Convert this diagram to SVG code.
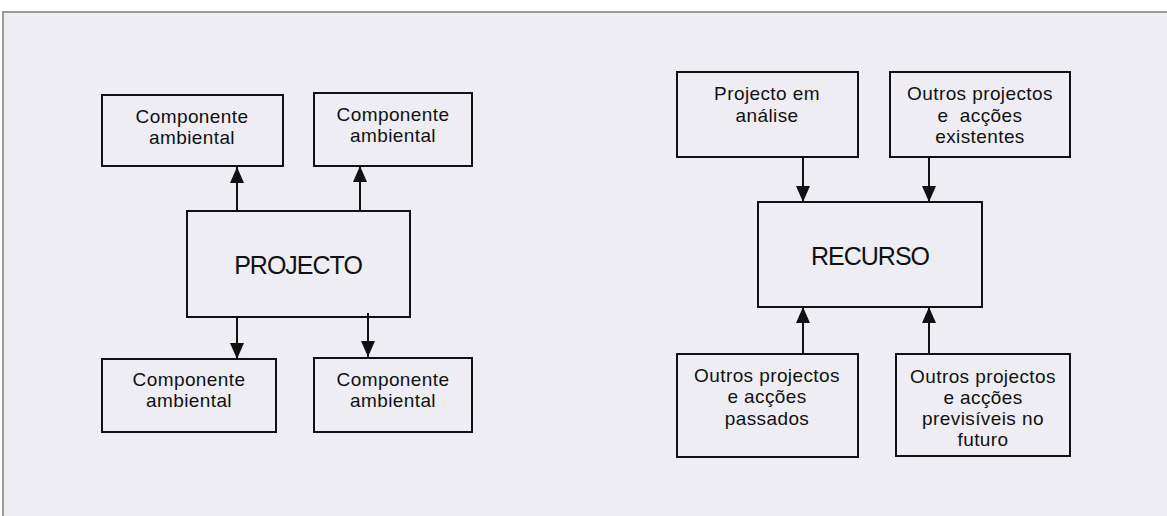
<svg xmlns="http://www.w3.org/2000/svg" width="1167" height="516" viewBox="0 0 1167 516">
<style>
.box{fill:none;stroke:#111;stroke-width:2}
.t{font-family:"Liberation Sans",Arial,sans-serif;font-size:19px;letter-spacing:0.4px;fill:#111;text-anchor:middle}
.big{font-family:"Liberation Sans",Arial,sans-serif;font-size:25px;fill:#111;text-anchor:middle;letter-spacing:-1px}
.c{stroke:#111;stroke-width:2;fill:none}
</style>
<defs>
<marker id="ah" viewBox="0 0 16 14" refX="16" refY="7" markerWidth="16" markerHeight="14" markerUnits="userSpaceOnUse" orient="auto">
<path d="M0,0 L16,7 L0,14 Z" fill="#111"/>
</marker>
</defs>
<rect x="0" y="0" width="1167" height="516" fill="#ffffff"/>
<rect x="3" y="12" width="1170" height="510" fill="#ededf3" stroke="#9a9a9a" stroke-width="2"/>

<g id="connectors">
<line class="c" x1="237" y1="211" x2="237" y2="167" marker-end="url(#ah)"/>
<line class="c" x1="360" y1="211" x2="360" y2="166" marker-end="url(#ah)"/>
<line class="c" x1="237" y1="317" x2="237" y2="359" marker-end="url(#ah)"/>
<line class="c" x1="368" y1="313" x2="368" y2="357" marker-end="url(#ah)"/>
<line class="c" x1="803" y1="157" x2="803" y2="202" marker-end="url(#ah)"/>
<line class="c" x1="929" y1="157" x2="929" y2="202" marker-end="url(#ah)"/>
<line class="c" x1="803" y1="354" x2="803" y2="307" marker-end="url(#ah)"/>
<line class="c" x1="929" y1="354" x2="929" y2="307" marker-end="url(#ah)"/>
</g>

<g id="comp-tl">
<rect class="box" x="102" y="95" width="181" height="71"/>
<text class="t" x="192" y="123">Componente</text>
<text class="t" x="192" y="144">ambiental</text>
</g>
<g id="comp-tr">
<rect class="box" x="314" y="93" width="158" height="73"/>
<text class="t" x="393" y="121">Componente</text>
<text class="t" x="393" y="142">ambiental</text>
</g>
<g id="projecto">
<rect class="box" x="187" y="211" width="223" height="106"/>
<text class="big" x="298" y="274">PROJECTO</text>
</g>
<g id="comp-bl">
<rect class="box" x="102" y="359" width="174" height="73"/>
<text class="t" x="189" y="386">Componente</text>
<text class="t" x="189" y="407">ambiental</text>
</g>
<g id="comp-br">
<rect class="box" x="314" y="358" width="158" height="74"/>
<text class="t" x="393" y="386">Componente</text>
<text class="t" x="393" y="407">ambiental</text>
</g>

<g id="projecto-analise">
<rect class="box" x="677" y="72" width="181" height="85"/>
<text class="t" x="767" y="100">Projecto em</text>
<text class="t" x="767" y="122">análise</text>
</g>
<g id="existentes">
<rect class="box" x="890" y="72" width="180" height="85"/>
<text class="t" x="980" y="100">Outros projectos</text>
<text class="t" x="980" y="122" xml:space="preserve">e  acções</text>
<text class="t" x="980" y="143">existentes</text>
</g>
<g id="recurso">
<rect class="box" x="758" y="202" width="224" height="105"/>
<text class="big" x="870" y="265">RECURSO</text>
</g>
<g id="passados">
<rect class="box" x="677" y="354" width="181" height="103"/>
<text class="t" x="767" y="382">Outros projectos</text>
<text class="t" x="767" y="403">e acções</text>
<text class="t" x="767" y="425">passados</text>
</g>
<g id="futuro">
<rect class="box" x="896" y="354" width="174" height="102"/>
<text class="t" x="983" y="383">Outros projectos</text>
<text class="t" x="983" y="404">e acções</text>
<text class="t" x="983" y="425">previsíveis no</text>
<text class="t" x="983" y="446">futuro</text>
</g>
</svg>
